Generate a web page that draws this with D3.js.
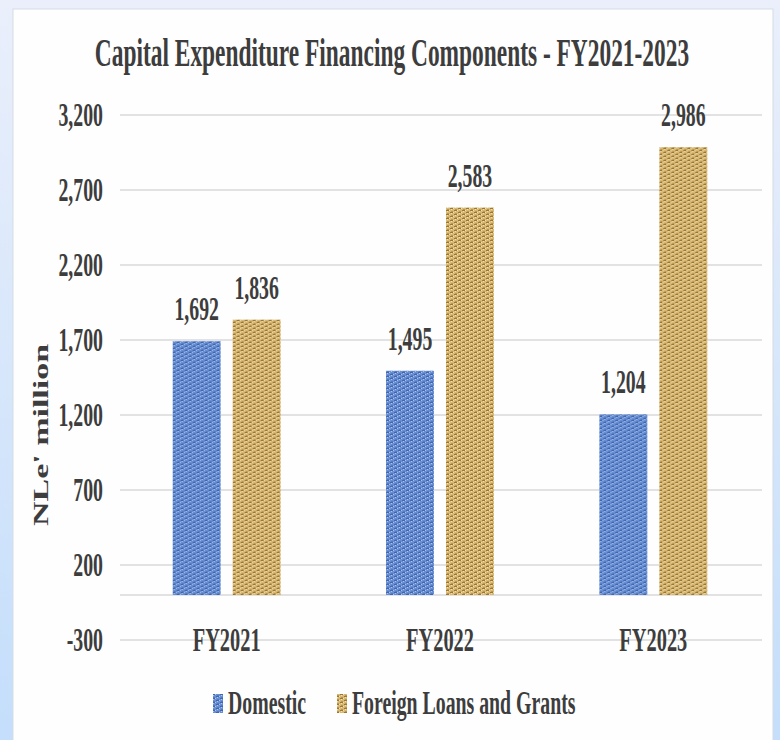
<!DOCTYPE html>
<html>
<head>
<meta charset="utf-8">
<title>Capital Expenditure Financing Components</title>
<script src="https://d3js.org/d3.v7.min.js"></script>
<style>
  body { margin: 0; background: #fff; }
  svg { display: block; }
  text { font-family: "Liberation Serif", "Times New Roman", serif; font-weight: bold; fill: #3d3d3d; }
</style>
</head>
<body>
<script>
// chart data
const categories = ["FY2021", "FY2022", "FY2023"];
const seriesNames = ["Domestic", "Foreign Loans and Grants"];
const domestic = [1692, 1495, 1204];
const foreign = [1836, 2583, 2986];
const yTicks = [-300, 200, 700, 1200, 1700, 2200, 2700, 3200];

const width = 780, height = 740;
const sx = 0.6; // the source picture is squeezed sideways
const fmt = v => d3.format(",")(v).replace("\u2212", "-");

const svg = d3.select("body").append("svg")
  .attr("width", width)
  .attr("height", height);

const defs = svg.append("defs");

// page background + white panel
const bg = defs.append("linearGradient").attr("id", "bg")
  .attr("x1", 0).attr("y1", 0).attr("x2", 0).attr("y2", 1);
bg.append("stop").attr("offset", "0%").attr("stop-color", "#eaeffb");
bg.append("stop").attr("offset", "100%").attr("stop-color", "#c4defb");
svg.append("rect").attr("width", width).attr("height", height).attr("fill", "url(#bg)");
svg.append("rect")
  .attr("x", 13).attr("y", 9).attr("width", 760).attr("height", 740)
  .attr("fill", "#fefefe").attr("stroke", "#d6dbe3").attr("stroke-width", 1);

// woven textures for the bars
function texture(id, base, dark, light) {
  const p = defs.append("pattern").attr("id", id)
    .attr("patternUnits", "userSpaceOnUse").attr("width", 8).attr("height", 4);
  p.append("rect").attr("width", 8).attr("height", 4).attr("fill", base);
  // weave: short horizontal dark runs, offset on alternate rows, with light threads between
  [[0,0],[4,2]].forEach(d => p.append("rect").attr("x", d[0]).attr("y", d[1]).attr("width", 3).attr("height", 1).attr("fill", dark));
  [[3,0],[7,2],[1,1],[5,3]].forEach(d => p.append("rect").attr("x", d[0]).attr("y", d[1]).attr("width", 1).attr("height", 1).attr("fill", light));
  [[5,1],[1,3]].forEach(d => p.append("rect").attr("x", d[0]).attr("y", d[1]).attr("width", 2).attr("height", 1).attr("fill", dark).attr("opacity", 0.5));
}
texture("blueTex", "#6a8fd1", "#3e66b4", "#adc4ec");
texture("tanTex", "#d7b874", "#9b7532", "#f2e1b0");
const fills = ["url(#blueTex)", "url(#tanTex)"];

const y = d3.scaleLinear().domain([-300, 3200]).range([640, 115]);
const x0 = d3.scaleBand().domain(categories).range([120, 760])
  .paddingInner(0.494).paddingOuter(0.247);
const x1 = d3.scaleBand().domain(seriesNames).range([0, x0.bandwidth()]).paddingInner(0.2);

// squeezed text helper
function label(g, x, yy, txt, size, anchor) {
  return g.append("text")
    .attr("transform", `translate(${x},${yy}) scale(${sx},1)`)
    .attr("text-anchor", anchor || "middle")
    .style("font-size", size + "px")
    .text(txt);
}

// title
label(svg, 392, 66, "Capital Expenditure Financing Components - FY2021-2023", 39);

// gridlines
svg.append("g")
  .selectAll("line")
  .data(yTicks.concat([0]))
  .join("line")
    .attr("x1", 120).attr("x2", 762)
    .attr("y1", d => y(d)).attr("y2", d => y(d))
    .attr("stroke", "#d9d9d9").attr("stroke-width", 1.5);

// y axis labels
const yAxis = svg.append("g")
  .attr("transform", "translate(103,0)")
  .call(d3.axisLeft(y).tickValues(yTicks).tickSize(0).tickPadding(0).tickFormat(fmt));
yAxis.select(".domain").remove();
yAxis.selectAll("text")
  .attr("x", 0).attr("dy", null).attr("y", 10)
  .attr("transform", `scale(${sx},1)`)
  .attr("fill", "#3d3d3d")
  .style("font-family", "'Liberation Serif', serif")
  .style("font-weight", "bold")
  .style("font-size", "33px");

// y axis title
svg.append("text")
  .attr("transform", `translate(48,435) scale(${sx},1) rotate(-90)`)
  .attr("text-anchor", "middle")
  .style("font-size", "34px")
  .text("NLe' million");

// bars
const rows = categories.map((c, i) => ({ cat: c, vals: [domestic[i], foreign[i]] }));
const groups = svg.append("g").selectAll("g")
  .data(rows)
  .join("g")
    .attr("transform", d => `translate(${x0(d.cat)},0)`);

groups.selectAll("rect")
  .data(d => d.vals.map((v, j) => ({ s: seriesNames[j], v: v, j: j })))
  .join("rect")
    .attr("x", d => x1(d.s))
    .attr("width", x1.bandwidth())
    .attr("y", d => y(d.v))
    .attr("height", d => y(0) - y(d.v))
    .attr("fill", d => fills[d.j]);

groups.each(function(d) {
  const g = d3.select(this);
  d.vals.forEach((v, j) => {
    label(g, x1(seriesNames[j]) + x1.bandwidth() / 2, y(v) - 21, fmt(v), 33);
  });
});

// category labels
categories.forEach(c => label(svg, x0(c) + x0.bandwidth() / 2, 651, c, 34));

// legend
const legendPos = [213, 337];
seriesNames.forEach((s, j) => {
  svg.append("rect")
    .attr("x", legendPos[j]).attr("y", 694)
    .attr("width", 10).attr("height", 19)
    .attr("fill", fills[j]);
  label(svg, legendPos[j] + 15, 714, s, 33, "start");
});
</script>
</body>
</html>
